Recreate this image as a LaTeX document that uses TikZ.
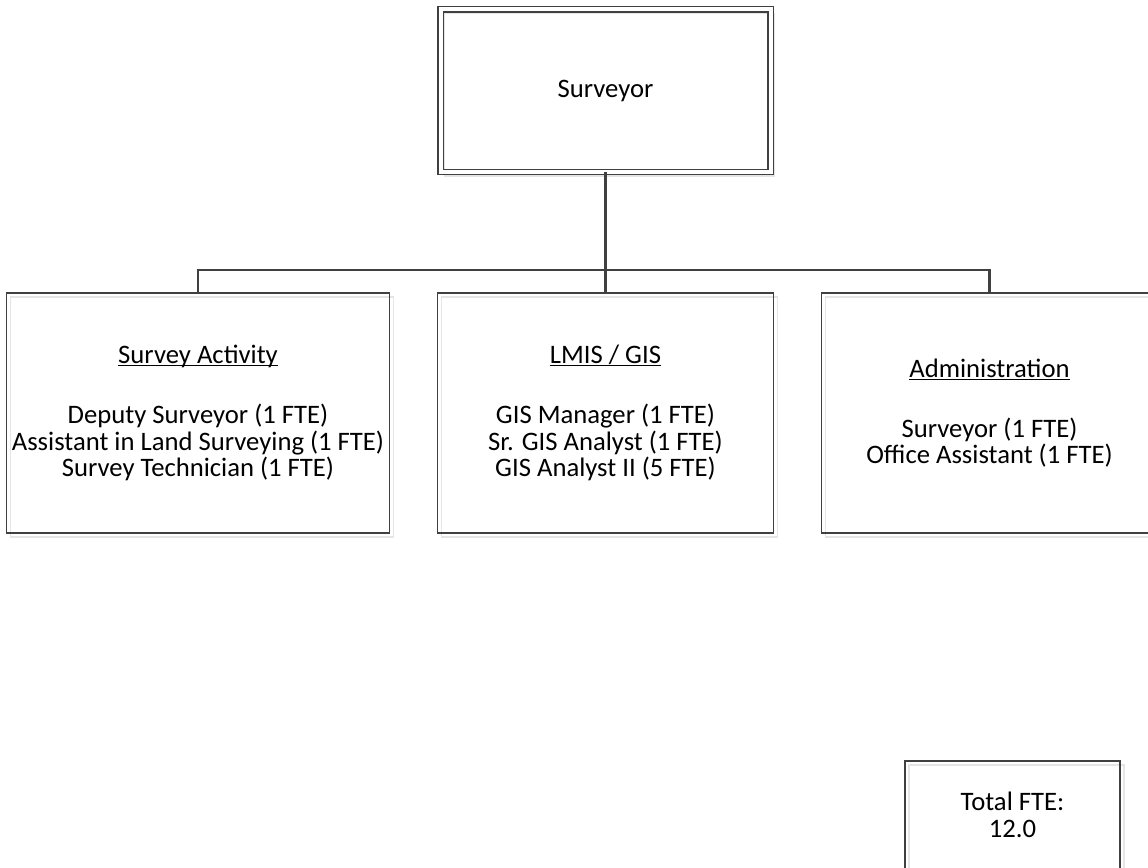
\documentclass[tikz,border=0pt]{standalone}
\usepackage{fontspec}
\setmainfont{Carlito}
\usepackage{xcolor}
\usetikzlibrary{positioning, shadows}

\definecolor{linegray}{HTML}{404040}
\newcommand\unithead[1]{\underline{\smash{#1}}\vphantom{#1}}

\begin{document}
\begin{tikzpicture}[
    x=0.75pt, y=-0.75pt,
    node distance=36pt,
    box/.style={
        draw=linegray,
        line width=0.8pt,
        outer sep=0pt,
        inner sep=0pt,
        align=center,
        font=\fontsize{20}{20}\selectfont,
        drop shadow={shadow xshift=3pt, shadow yshift=-3pt, opacity=1,
            fill=none, draw=gray!20, line width=0.8pt}
    },
    unit/.style={box, minimum width=252pt, minimum height=180pt},
    conn/.style={draw=linegray, line width=1.6pt}
]
  \useasboundingbox (0,0) rectangle (1148,867);

  \node[box, double, double distance=3pt,
        minimum width=247.5pt, minimum height=121.9pt] (chief) at (605.5,90.75) {Surveyor};

  \node[unit, below=90.75pt of chief] (gis)
    {\unithead{LMIS / GIS}\\[25pt]GIS Manager (1 FTE)\\Sr. GIS Analyst (1 FTE)\\GIS Analyst II (5 FTE)};
  \node[unit, minimum width=287.25pt, left=of gis] (survey)
    {\unithead{Survey Activity}\\[25pt]Deputy Surveyor (1 FTE)\\Assistant in Land Surveying (1 FTE)\\Survey Technician (1 FTE)};
  \node[unit, right=of gis] (admin)
    {\unithead{Administration}\\[25pt]Surveyor (1 FTE)\\Office Assistant (1 FTE)};

  \node[box, minimum width=161.25pt, minimum height=81pt] (total) at (1012.5,815)
    {Total FTE:\\12.0};

  \coordinate (bus) at (605.5,270);
  \draw[conn] (chief) -- (gis);
  \draw[conn] (survey.north) |- (bus) -| (admin.north);
\end{tikzpicture}
\end{document}
